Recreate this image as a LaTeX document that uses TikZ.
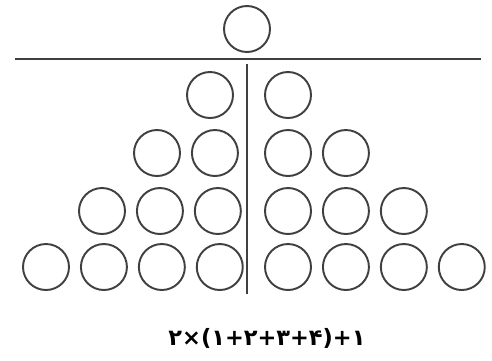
\documentclass[tikz,border=0pt]{standalone}
\usepackage{fontspec}
\usepackage{tikz}
\usetikzlibrary{positioning}
\newfontfamily\persianfont{DejaVu Sans}

\begin{document}
\begin{tikzpicture}[
    x=0.02cm, y=-0.02cm,
    node distance=0.2cm,
    ball/.style={draw=black!75, circle, line width=1.1pt, minimum size=0.92cm, inner sep=0pt},
    rule/.style={draw=black!75, line width=1.3pt}
  ]
    \useasboundingbox (0,0) rectangle (492,360);
    % the single ball above the line
    \node[ball] (top) at (247,29) {};
    \coordinate (hl) at (15,59);
    \coordinate (hr) at (481,59);
    \draw[rule] (hl) -- (hr);
    \coordinate (vt) at (247,64);
    \coordinate (vb) at (247,294);
    \draw[rule] (vt) -- (vb);
    % left half
    \node[ball] (l11) at (210,95) {};
    \node[ball] (l21) at (157,153) {};
    \node[ball, right=of l21] (l22) {};
    \node[ball] (l31) at (102,211) {};
    \node[ball, right=of l31] (l32) {};
    \node[ball, right=of l32] (l33) {};
    \node[ball] (l41) at (46,267) {};
    \node[ball, right=of l41] (l42) {};
    \node[ball, right=of l42] (l43) {};
    \node[ball, right=of l43] (l44) {};
    % right half
    \node[ball] (r11) at (288,95) {};
    \node[ball] (r21) at (288,153) {};
    \node[ball, right=of r21] (r22) {};
    \node[ball] (r31) at (288,211) {};
    \node[ball, right=of r31] (r32) {};
    \node[ball, right=of r32] (r33) {};
    \node[ball] (r41) at (288,267) {};
    \node[ball, right=of r41] (r42) {};
    \node[ball, right=of r42] (r43) {};
    \node[ball, right=of r43] (r44) {};
    \node[font=\persianfont\bfseries\fontsize{12.8}{15}\selectfont] (sum) at (267,338) {۲×(۱+۲+۳+۴)+۱};
  \end{tikzpicture}
\end{document}
